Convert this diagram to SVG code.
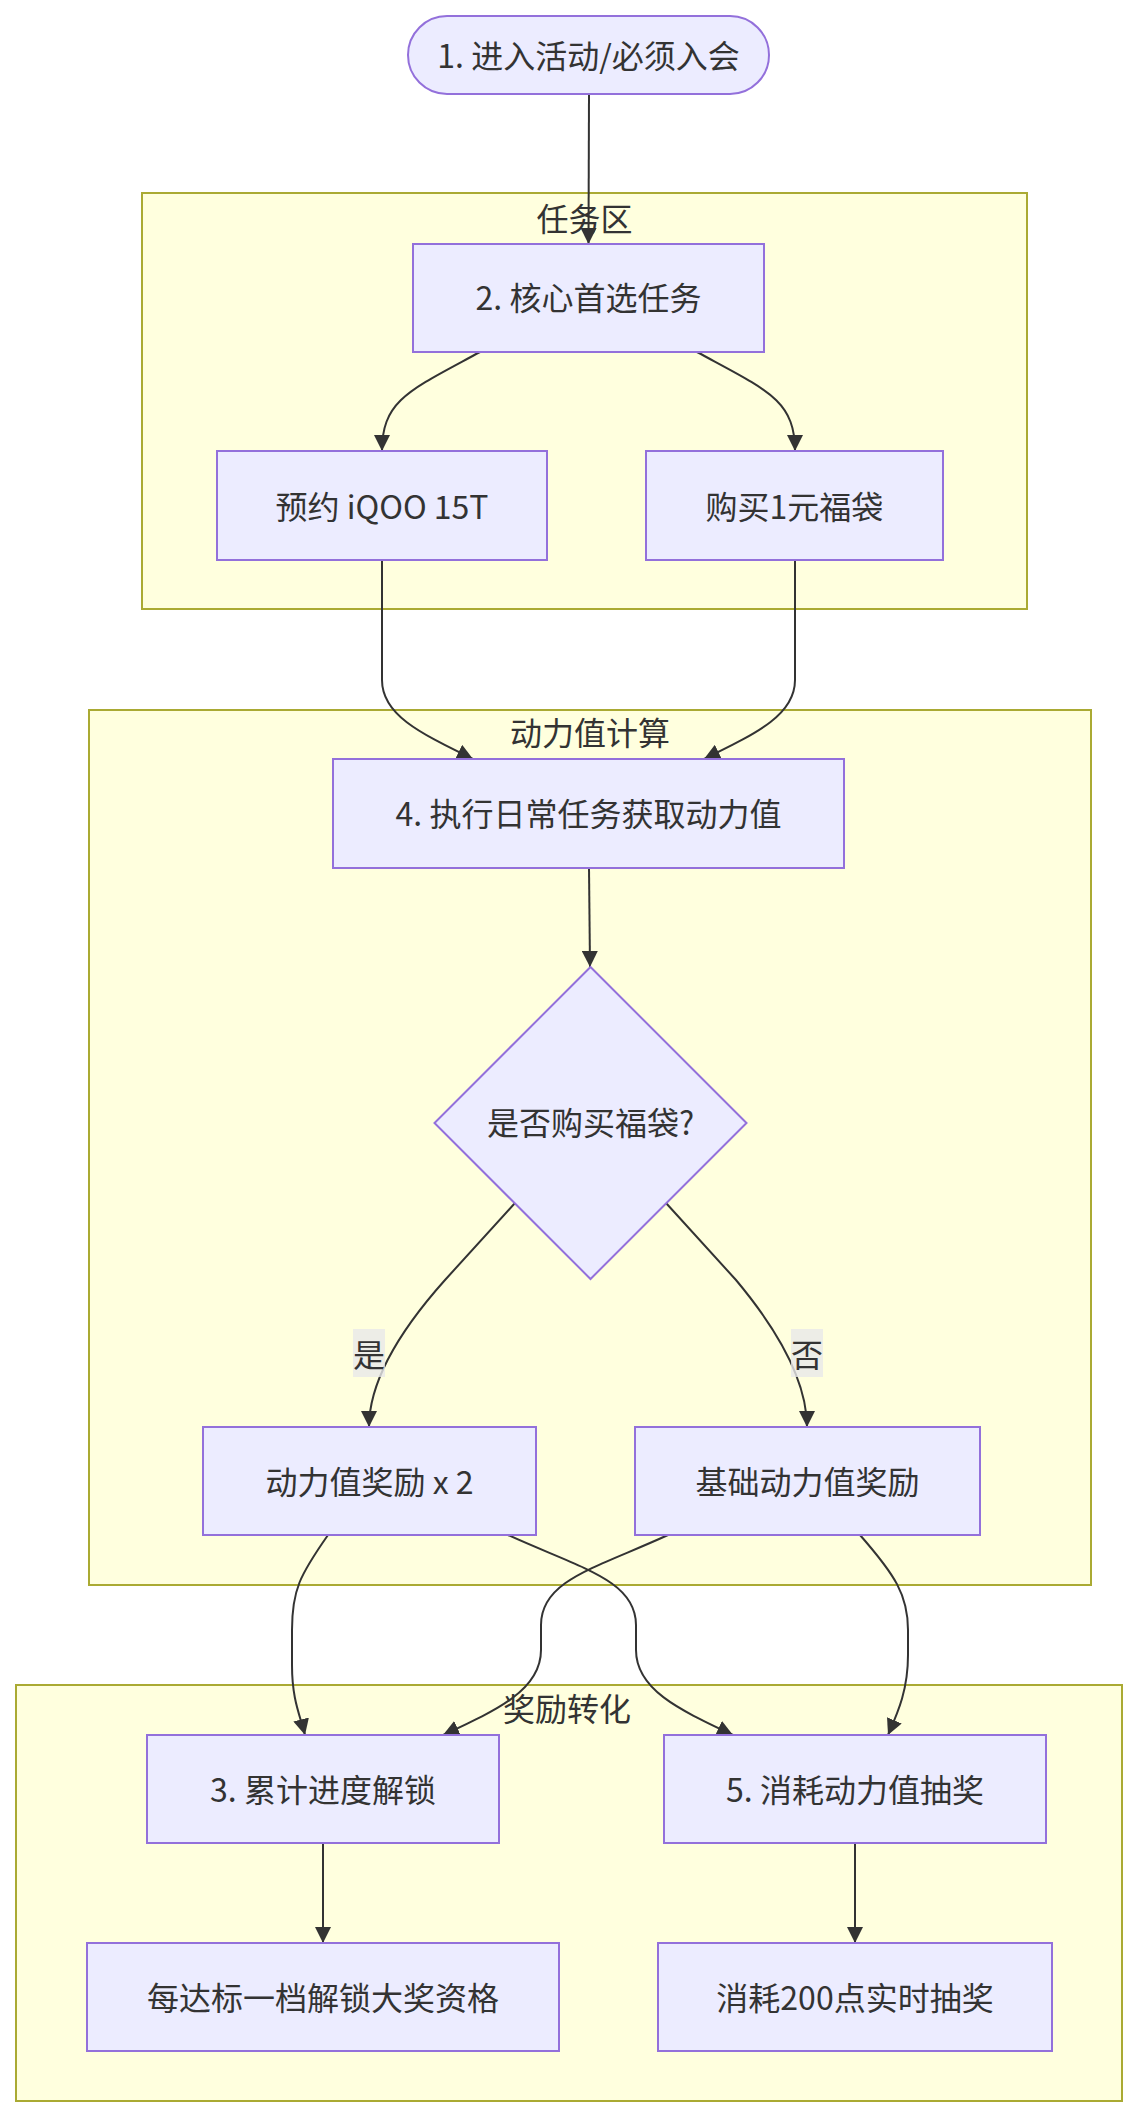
<svg xmlns="http://www.w3.org/2000/svg" width="1138" height="2117" viewBox="0 0 1138 2117">
<style>
  text { font-family: "Noto Sans CJK SC", "Noto Sans", sans-serif; font-size: 32px; fill: #333333; text-anchor: middle; dominant-baseline: central; }
  .cluster { fill: #ffffde; stroke: #aaaa33; stroke-width: 2; }
  .node { fill: #ececff; stroke: #9370db; stroke-width: 2; }
  .edge { fill: none; stroke: #333333; stroke-width: 2; marker-end: url(#arrow); }
  .elabel { fill: #e8e8e8; fill-opacity: 0.8; stroke: none; }
</style>
<defs>
  <marker id="arrow" viewBox="0 0 10 10" refX="10" refY="5" markerUnits="userSpaceOnUse" markerWidth="16" markerHeight="16" orient="auto">
    <path d="M0,0 L10,5 L0,10 z" fill="#333333"/>
  </marker>
</defs>
<rect width="1138" height="2117" fill="#ffffff"/>

<g id="clusters">
  <g id="cluster-task">
    <rect class="cluster" x="142" y="193" width="885" height="416"/>
    <text x="584.5" y="216.5">任务区</text>
  </g>
  <g id="cluster-power">
    <rect class="cluster" x="89" y="710" width="1002" height="875"/>
    <text x="590" y="730.5">动力值计算</text>
  </g>
  <g id="cluster-reward">
    <rect class="cluster" x="16" y="1685" width="1106" height="416"/>
    <text x="567" y="1707">奖励转化</text>
  </g>
</g>

<g id="edges">
  <path class="edge" d="M589,94 L588.5,244"/>
  <path class="edge" d="M480,352 C410,390 382,400 382,451"/>
  <path class="edge" d="M697,352 C767,390 795,400 795,451"/>
  <path class="edge" d="M382,560 L382,680 C382,715 420,733 473,759"/>
  <path class="edge" d="M795,560 L795,680 C795,715 757,733 704,759"/>
  <path class="edge" d="M589,868 L590,967"/>
  <path class="edge" d="M515,1203 L445,1280 Q369,1365 369,1427"/>
  <path class="edge" d="M666,1203 L736,1280 Q807,1365 807,1427"/>
  <path class="edge" d="M328,1535 C300,1575 292,1590 292,1630 L292,1665 C292,1700 300,1715 305,1735"/>
  <path class="edge" d="M508,1535 C580,1568 636,1580 636,1625 L636,1650 C636,1690 680,1710 733,1735"/>
  <path class="edge" d="M668,1535 C596,1568 541,1580 541,1625 L541,1650 C541,1690 497,1710 443,1735"/>
  <path class="edge" d="M860,1535 C895,1575 908,1595 908,1630 L908,1655 C908,1690 898,1712 888,1735"/>
  <path class="edge" d="M323,1843 L323,1943"/>
  <path class="edge" d="M855,1843 L855,1943"/>
  <g id="label-yes">
    <rect class="elabel" x="353" y="1329" width="32" height="48"/>
    <text x="369" y="1353">是</text>
  </g>
  <g id="label-no">
    <rect class="elabel" x="791" y="1329" width="32" height="48"/>
    <text x="807" y="1353">否</text>
  </g>
</g>

<g id="nodes">
  <g id="n1">
    <rect class="node" x="408" y="16" width="361" height="78" rx="39" ry="39"/>
    <text x="588.5" y="54">1. 进入活动/必须入会</text>
  </g>
  <g id="n2">
    <rect class="node" x="413" y="244" width="351" height="108"/>
    <text x="588.5" y="296">2. 核心首选任务</text>
  </g>
  <g id="n-reserve">
    <rect class="node" x="217" y="451" width="330" height="109"/>
    <text x="382" y="504.5">预约 iQOO 15T</text>
  </g>
  <g id="n-buy">
    <rect class="node" x="646" y="451" width="297" height="109"/>
    <text x="794.5" y="504.5">购买1元福袋</text>
  </g>
  <g id="n4">
    <rect class="node" x="333" y="759" width="511" height="109"/>
    <text x="588.5" y="812">4. 执行日常任务获取动力值</text>
  </g>
  <g id="n-decide">
    <polygon class="node" points="590.5,967 746.5,1123 590.5,1279 434.5,1123"/>
    <text x="590.5" y="1121">是否购买福袋?</text>
  </g>
  <g id="n-double">
    <rect class="node" x="203" y="1427" width="333" height="108"/>
    <text x="369.5" y="1480">动力值奖励 x 2</text>
  </g>
  <g id="n-base">
    <rect class="node" x="635" y="1427" width="345" height="108"/>
    <text x="807.5" y="1480">基础动力值奖励</text>
  </g>
  <g id="n3">
    <rect class="node" x="147" y="1735" width="352" height="108"/>
    <text x="323" y="1788">3. 累计进度解锁</text>
  </g>
  <g id="n5">
    <rect class="node" x="664" y="1735" width="382" height="108"/>
    <text x="855" y="1788">5. 消耗动力值抽奖</text>
  </g>
  <g id="n-grand">
    <rect class="node" x="87" y="1943" width="472" height="108"/>
    <text x="323" y="1996">每达标一档解锁大奖资格</text>
  </g>
  <g id="n-draw">
    <rect class="node" x="658" y="1943" width="394" height="108"/>
    <text x="855" y="1996">消耗200点实时抽奖</text>
  </g>
</g>
</svg>
